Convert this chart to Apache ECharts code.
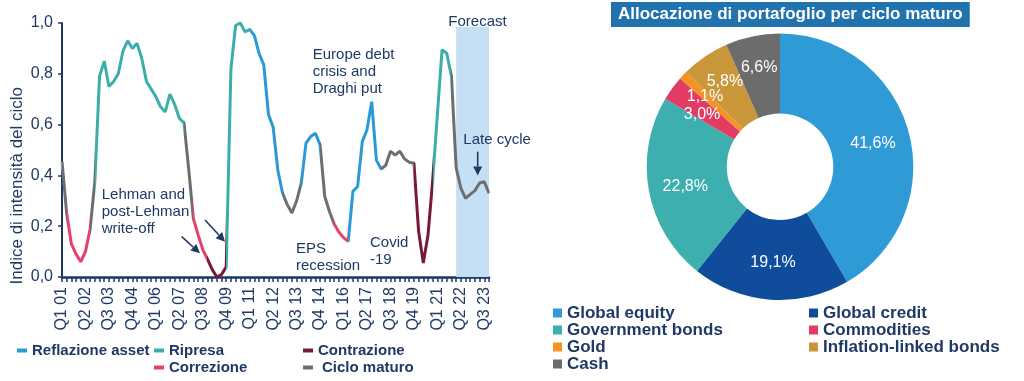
<!DOCTYPE html>
<html><head><meta charset="utf-8">
<script src="https://cdn.jsdelivr.net/npm/echarts@6/dist/echarts.min.js"></script>
<style>html,body{margin:0;padding:0;background:#fff;}#c{width:1024px;height:381px;}</style>
</head><body><div id="c"></div>
<script>
// ---------- DATA ----------
const quarters = [];
for (let y = 1; y <= 23; y++) for (let q = 1; q <= 4; q++) quarters.push('Q' + q + ' ' + String(y).padStart(2, '0'));

const cycleIndex = [0.455,0.25,0.13,0.09,0.06,0.10,0.19,0.375,0.79,0.85,
0.75,0.77,0.80,0.89,0.93,0.90,0.92,0.86,0.77,0.74,
0.71,0.67,0.65,0.72,0.68,0.625,0.607,0.425,0.23,0.167,
0.108,0.07,0.03,0.0,0.01,0.04,0.82,0.99,1.0,0.965,
0.975,0.95,0.88,0.835,0.64,0.59,0.42,0.33,0.285,0.252,
0.30,0.37,0.527,0.553,0.566,0.52,0.317,0.258,0.209,0.177,
0.155,0.14,0.337,0.356,0.533,0.58,0.69,0.46,0.425,0.44,
0.495,0.48,0.495,0.465,0.452,0.448,0.18,0.055,0.165,0.38,
0.64,0.895,0.88,0.79,0.43,0.35,0.31,0.325,0.34,0.37,
0.375,0.33];

const phaseStarts = [0,1,6,7,26,28,31,35,40,47,51,55,58,61,68,75,79,83];
const phaseNames = ['Ciclo maturo','Correzione','Ciclo maturo','Ripresa','Ciclo maturo','Correzione','Contrazione','Ripresa','Reflazione asset','Ciclo maturo','Reflazione asset','Ciclo maturo','Correzione','Reflazione asset','Ciclo maturo','Contrazione','Ripresa','Ciclo maturo'];
const phaseLegend = ['Reflazione asset','Ripresa','Contrazione','Correzione','Ciclo maturo'];
const forecastRange = ['Q1 22','Q4 23'];

const assetNames = ['Global equity','Global credit','Government bonds','Commodities','Gold','Inflation-linked bonds','Cash'];
const assetWeights = [41.6,19.1,22.8,3.0,1.1,5.8,6.6];

// ---------- STYLE ----------
const FONT = "'Liberation Sans', Arial, sans-serif";
const NAVY = '#1F3864';
const phaseColors = {
  'Reflazione asset':'#2A9AD6','Ripresa':'#3AAFA9','Contrazione':'#7A1838',
  'Correzione':'#E6416A','Ciclo maturo':'#6E6E6E'
};
const assetColors = ['#2E9BD6','#0F4C9C','#3DAFAE','#E23C64','#F39322','#C9963A','#6C6C6C'];
const labelShift = [{dy:2},{},{dy:2},{dy:4},{dx:-5,dy:-4},{dx:-1,dy:-5},{dx:-1,dy:-5}];

const pieces = phaseStarts.map((s, k) => {
  const p = {gte: s, color: phaseColors[phaseNames[k]]};
  if (k < phaseStarts.length - 1) p.lt = phaseStarts[k + 1]; else p.lte = quarters.length - 1;
  return p;
});

const chart = echarts.init(document.getElementById('c'));

const legendPos = {
  'Reflazione asset':[17,343,0],'Ripresa':[154,343,0],'Contrazione':[303,343,0],
  'Correzione':[154,360,0],'Ciclo maturo':[303,360,4]
};
const legends = phaseLegend.map(n => ({
  data:[n], left:legendPos[n][0], top:legendPos[n][1], padding:0,
  icon:'rect', itemWidth:10, itemHeight:4, itemGap:0,
  textStyle:{fontFamily:FONT, fontSize:15, fontWeight:'bold', color:NAVY, padding:[0,0,0,legendPos[n][2]]}
}));
legends.push({
  data:['Global equity','Government bonds','Gold','Cash'], orient:'vertical', left:553, top:304.5,
  padding:0, itemGap:0, icon:'rect', itemWidth:9, itemHeight:9,
  textStyle:{fontFamily:FONT, fontSize:17, fontWeight:'bold', color:NAVY, lineHeight:16.3}
});
legends.push({
  data:['Global credit','Commodities','Inflation-linked bonds'], orient:'vertical', left:809, top:304.5,
  padding:0, itemGap:0, icon:'rect', itemWidth:9, itemHeight:9,
  textStyle:{fontFamily:FONT, fontSize:17, fontWeight:'bold', color:NAVY, lineHeight:16.3}
});

const series = [{
  type:'line', name:'Indice', data:cycleIndex, symbol:'none', clip:false,
  lineStyle:{width:3}, z:3, animation:false
},{
  type:'line', name:'forecast', data:cycleIndex, symbol:'none', silent:true,
  lineStyle:{opacity:0}, z:1, animation:false,
  markArea:{silent:true, itemStyle:{color:'#C5E0F4'},
    data:[[{xAxis:forecastRange[0], yAxis:0},{xAxis:forecastRange[1], yAxis:0.985}]]}
}];
phaseLegend.forEach(n => series.push({type:'line', name:n, data:[], color:phaseColors[n], itemStyle:{color:phaseColors[n]}}));
series.push({
  type:'pie', name:'alloc', center:[780,166.7], radius:[53.3,133.3], avoidLabelOverlap:false,
  startAngle:90, animation:false,
  data:assetNames.map((n,i) => ({name:n, value:assetWeights[i], itemStyle:{color:assetColors[i]}})),
  label:{position:'inside', color:'#fff', fontSize:16, fontFamily:FONT,
    formatter:p => p.value.toFixed(1).replace('.', ',') + '%'},
  labelLine:{show:false},
  labelLayout:p => labelShift[p.dataIndex]
});

function arrow(x1,y1,x2,y2){
  const a = Math.atan2(y2-y1, x2-x1), L = 9, W = 4.5;
  const bx = x2 - L*Math.cos(a), by = y2 - L*Math.sin(a);
  return [
    {type:'line', z:100, shape:{x1, y1, x2:bx, y2:by}, style:{stroke:NAVY, lineWidth:1.6}},
    {type:'polygon', z:100, shape:{points:[[x2,y2],[bx - W*Math.sin(a), by + W*Math.cos(a)],[bx + W*Math.sin(a), by - W*Math.cos(a)]]}, style:{fill:NAVY}}
  ];
}
const txt = (x,y,t) => ({type:'text', z:100, x, y, style:{text:t, font:'15px ' + FONT, fill:NAVY, lineHeight:17, verticalAlign:'top', align:'left'}});

const graphic = [
  {type:'text', z:100, x:17.5, y:185.7, rotation:Math.PI/2, style:{text:'Indice di intensità del ciclo', font:'17px ' + FONT, fill:NAVY, align:'center', verticalAlign:'middle'}},
  txt(101.7,186.5,'Lehman and\npost-Lehman\nwrite-off'),
  txt(312.7,46.5,'Europe debt\ncrisis and\nDraghi put'),
  txt(296,240,'EPS\nrecession'),
  txt(370,234,'Covid\n-19'),
  txt(463.3,131.5,'Late cycle'),
  txt(448.3,13,'Forecast'),
  ...arrow(181.7,236.7,200,253.3),
  ...arrow(205,220,225,241.7),
  ...arrow(477.7,151.7,477.7,175.5)
];

chart.setOption({
  animation:false,
  textStyle:{fontFamily:FONT},
  title:{text:'Allocazione di portafoglio per ciclo maturo', left:611, top:2, backgroundColor:'#2173AF',
    padding:[4,7,4,7], textStyle:{color:'#fff', fontSize:17, fontWeight:'bold', fontFamily:FONT}},
  legend:legends,
  grid:{left:62, right:535, top:23, bottom:104},
  xAxis:{type:'category', data:quarters, boundaryGap:false,
    axisLine:{lineStyle:{color:NAVY, width:2.5}},
    axisTick:{interval:0, length:5, lineStyle:{color:NAVY, width:1.5}},
    axisLabel:{interval:4, rotate:90, margin:10, fontSize:16, color:NAVY, fontFamily:FONT}},
  yAxis:{type:'value', min:0, max:1, interval:0.2,
    axisLine:{show:true, lineStyle:{color:NAVY, width:2}},
    axisTick:{show:true, length:4, lineStyle:{color:NAVY, width:1.5}},
    splitLine:{show:false},
    axisLabel:{fontSize:16, color:NAVY, margin:9, fontFamily:FONT, formatter:v => v.toFixed(1).replace('.', ',')}},
  visualMap:{type:'piecewise', show:false, dimension:0, seriesIndex:0, pieces, outOfRange:{color:'#999'}},
  graphic,
  series
});
</script></body></html>
